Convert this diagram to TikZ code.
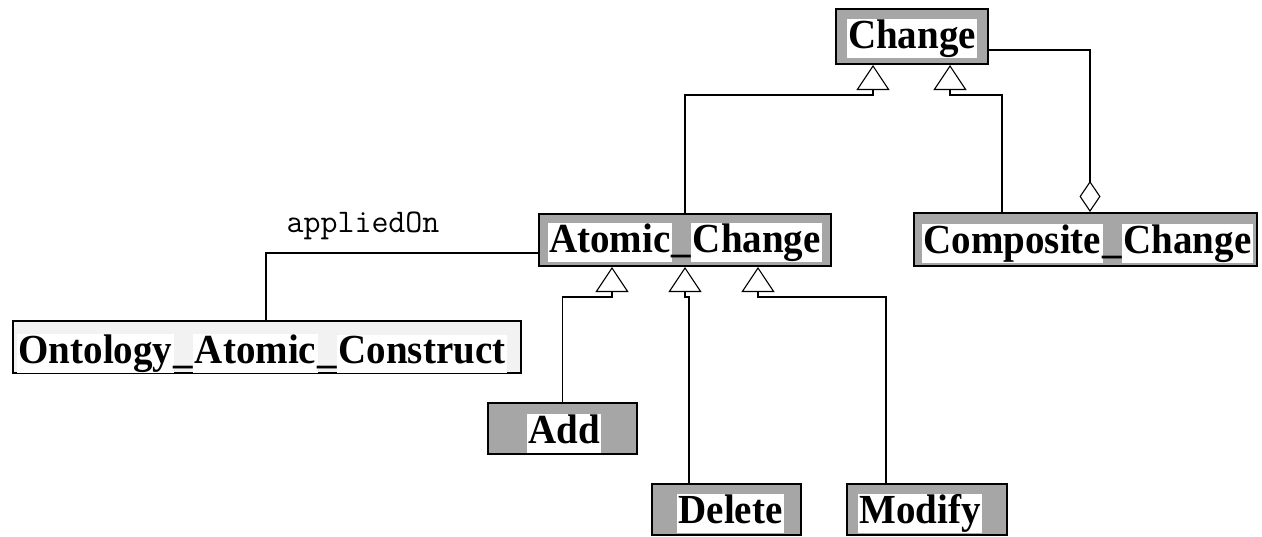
\documentclass[tikz,border=0pt]{standalone}
\usepackage{fontspec}
\setmainfont{Liberation Serif}
\usetikzlibrary{arrows.meta}
\definecolor{boxgray}{HTML}{A6A6A6}
\definecolor{boxlight}{HTML}{F2F2F2}
\newcommand\wb[1]{{\setlength{\fboxsep}{0pt}\colorbox{white}{\hspace{1.5pt}\rule[-10pt]{0pt}{38pt}\scalebox{1}[1.06]{#1}\hspace{1.5pt}}}}
\begin{document}
\begin{tikzpicture}[x=1pt,y=-1pt,
  cls/.style={draw=black, line width=2pt, fill=boxgray, inner sep=0pt, rectangle},
  lbl/.style={anchor=base, inner sep=0pt, font=\fontsize{39}{44}\selectfont\bfseries},
  conn/.style={line width=1.1pt, black},
  inh/.style={conn, -{Triangle[open, length=25pt, width=33pt, line width=1.1pt]}},
  agg/.style={conn, -{Diamond[open, length=31pt, width=21pt, line width=1.1pt]}},
  rolelbl/.style={anchor=base, inner sep=0pt, font=\fontsize{33}{38}\selectfont\ttfamily}
]
\useasboundingbox (0,0) rectangle (1262,536);
% class boxes
\node[cls, minimum width=152pt, minimum height=55pt] (change) at (912,36.5) {};
\node[cls, minimum width=292pt, minimum height=52pt] (atomic) at (685,240) {};
\node[cls, minimum width=343pt, minimum height=53pt] (composite) at (1085.5,239.5) {};
\node[cls, fill=boxlight, minimum width=508pt, minimum height=52pt] (ontology) at (267,347) {};
\node[cls, minimum width=149pt, minimum height=51pt] (add) at (562.5,428.5) {};
\node[cls, minimum width=149pt, minimum height=51pt] (delete) at (726.5,509.5) {};
\node[cls, minimum width=160pt, minimum height=51pt] (modify) at (927,509.5) {};
% class names
\node[lbl] (tchange) at (912,48) {\wb{Change}};
\node[lbl] (tatomic) at (685,252) {\wb{Atomic}\_\wb{Change}};
\node[lbl] (tcomposite) at (1087.5,253) {\wb{Composite}\_\wb{Change}};
\node[lbl] (tontology) at (262,363) {\wb{Ontology}\_\wb{Atomic}\_\wb{Construct}};
\node[lbl] (tadd) at (564,443) {\wb{Add}};
\node[lbl] (tdelete) at (730.5,523) {\wb{Delete}};
\node[lbl] (tmodify) at (920,523) {\wb{Modify}};
% generalisations to Change
\draw[inh] (atomic.north) |- ([xshift=-39pt,yshift=-30pt]change.south) -- ([xshift=-39pt]change.south);
\draw[inh] ([xshift=-83.5pt]composite.north) |- ([xshift=38pt,yshift=-30pt]change.south) -- ([xshift=38pt]change.south);
% aggregation
\draw[agg] ([yshift=-13.5pt]change.east) -| ([xshift=4.5pt]composite.north);
% generalisations to Atomic_Change
\draw[inh] (add.north) |- ([xshift=-73pt,yshift=-30pt]atomic.south) -- ([xshift=-73pt]atomic.south);
\draw[inh] ([xshift=-37.5pt]delete.north) |- ([yshift=-30pt]atomic.south) -- (atomic.south);
\draw[inh] ([xshift=-41pt]modify.north) |- ([xshift=73pt,yshift=-30pt]atomic.south) -- ([xshift=73pt]atomic.south);
% association
\draw[conn] ([yshift=-13pt]atomic.west) -| ([xshift=-1pt]ontology.north);
\node[rolelbl] (applied) at (363,232) {appliedOn};
\end{tikzpicture}
\end{document}
